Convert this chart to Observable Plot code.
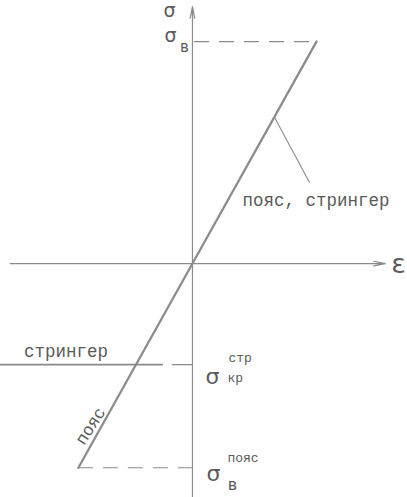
<!DOCTYPE html>
<html>
<head>
<meta charset="utf-8">
<script src="https://cdn.jsdelivr.net/npm/d3@7"></script>
<script src="https://cdn.jsdelivr.net/npm/@observablehq/plot@0.6"></script>
<style>
  body { margin: 0; background: #fff; }
</style>
</head>
<body>
<div id="chart"></div>
<script>
// Stress levels, relative to the ultimate tensile stress σв = 1
const sigmaB = 1.0;              // σв — ultimate stress in tension
const sigmaBBelt = -0.92;        // σв пояс — ultimate compressive stress of the belt
const sigmaCrStringer = -0.455;  // σкр стр — critical (buckling) stress of the stringer

// Linear stress–strain diagram (strain normalised so that σ = ε)
const strain = [sigmaBBelt, 0, sigmaB];
const stress = [sigmaBBelt, 0, sigmaB];

// Axis extents (ε horizontally, σ vertically)
const epsRange = [-1.47, 1.556];
const sigRange = [-1.06, 1.158];

// Label anchors
const beltStringerLabel = {eps: 0.403, sig: 0.284, text: "пояс, стрингер"};
const leader = {eps1: 0.66, sig1: 0.66, eps2: 0.944, sig2: 0.365};
const stringerLabel = {eps: -1.02, text: "стрингер"};
const beltLabel = {sig: -0.75, text: "пояс"};

const diagram = strain.map((e, i) => ({eps: e, sig: stress[i]}));

const lineColor = "#8a8a8a";
const textColor = "#5a5a5a";
const mono = "Liberation Mono, DejaVu Sans Mono, monospace";
const serif = "DejaVu Sans, sans-serif";

const chart = Plot.plot({
  width: 407,
  height: 497,
  margin: 0,
  x: {domain: [-1.548, 1.734], range: [0, 407], axis: null},
  y: {domain: [-1.054, 1.185], range: [497, 0], axis: null},
  style: {background: "#fff"},
  marks: [
    // ε axis
    Plot.arrow([{x1: epsRange[0], x2: epsRange[1]}], {
      x1: "x1", x2: "x2", y1: () => 0, y2: () => 0,
      stroke: lineColor, strokeWidth: 1.2, headLength: 15, headAngle: 22
    }),
    // σ axis
    Plot.arrow([{y1: sigRange[0], y2: sigRange[1]}], {
      x1: () => 0, x2: () => 0, y1: "y1", y2: "y2",
      stroke: lineColor, strokeWidth: 1.2, headLength: 15, headAngle: 22
    }),
    // σв level
    Plot.ruleY([sigmaB], {x1: () => 0, x2: () => sigmaB, stroke: lineColor, strokeWidth: 1.2, strokeDasharray: "15,10", strokeDashoffset: -2}),
    // σв пояс level
    Plot.ruleY([sigmaBBelt], {x1: () => sigmaBBelt, x2: () => 0, stroke: lineColor, strokeWidth: 1.2, strokeDasharray: "15,10"}),
    // stringer buckling level
    Plot.ruleY([sigmaCrStringer], {x1: () => epsRange[0] - 0.08, x2: () => -0.234, stroke: lineColor, strokeWidth: 1.8}),
    Plot.ruleY([sigmaCrStringer], {x1: () => -0.234, x2: () => 0, stroke: lineColor, strokeWidth: 1.2, strokeDasharray: "0,9,18"}),
    // stress–strain line
    Plot.line(diagram, {x: "eps", y: "sig", stroke: "#8c8c8c", strokeWidth: 2.3}),
    // leader to the line label
    Plot.link([leader], {x1: "eps1", y1: "sig1", x2: "eps2", y2: "sig2", stroke: lineColor, strokeWidth: 1.1}),

    // text labels
    Plot.text([beltStringerLabel], {x: "eps", y: "sig", text: "text", textAnchor: "start",
      fontFamily: mono, fontSize: 17.5, fill: textColor}),
    Plot.text([stringerLabel], {x: "eps", y: () => sigmaCrStringer, text: "text", dy: -13,
      fontFamily: mono, fontSize: 17.5, fill: textColor}),
    Plot.text([beltLabel], {x: "sig", y: "sig", text: "text", rotate: -57, dx: -9, dy: -4,
      fontFamily: mono, fontSize: 17, fill: textColor}),

    // axis names
    Plot.text(["σ"], {x: () => 0, y: () => 1.137, text: d => d, dx: -23, fontFamily: serif, fontSize: 19, fill: textColor}),
    Plot.text(["ε"], {x: () => epsRange[1], y: () => 0, text: d => d, dx: 13, dy: 1, fontFamily: serif, fontSize: 27, fill: textColor}),

    // σв
    Plot.text(["σ"], {x: () => 0, y: () => sigmaB, text: d => d, dx: -22, dy: -6, fontFamily: serif, fontSize: 19, fill: textColor}),
    Plot.text(["в"], {x: () => 0, y: () => sigmaB, text: d => d, dx: -8, dy: 6, fontFamily: serif, fontSize: 15, fill: textColor}),

    // σкр стр
    Plot.text(["σ"], {x: () => 0, y: () => sigmaCrStringer, text: d => d, dx: 20, dy: 12, fontFamily: serif, fontSize: 22, fill: textColor}),
    Plot.text(["стр"], {x: () => 0, y: () => sigmaCrStringer, text: d => d, dx: 36, dy: -7, textAnchor: "start", fontFamily: mono, fontSize: 13, fill: textColor}),
    Plot.text(["кр"], {x: () => 0, y: () => sigmaCrStringer, text: d => d, dx: 35, dy: 13, textAnchor: "start", fontFamily: mono, fontSize: 13, fill: textColor}),

    // σв пояс
    Plot.text(["σ"], {x: () => 0, y: () => sigmaBBelt, text: d => d, dx: 21, dy: 6, fontFamily: serif, fontSize: 22, fill: textColor}),
    Plot.text(["пояс"], {x: () => 0, y: () => sigmaBBelt, text: d => d, dx: 35, dy: -10, textAnchor: "start", fontFamily: mono, fontSize: 13, fill: textColor}),
    Plot.text(["в"], {x: () => 0, y: () => sigmaBBelt, text: d => d, dx: 40, dy: 17, fontFamily: serif, fontSize: 16, fill: textColor})
  ]
});

document.getElementById("chart").append(chart);
</script>
</body>
</html>
